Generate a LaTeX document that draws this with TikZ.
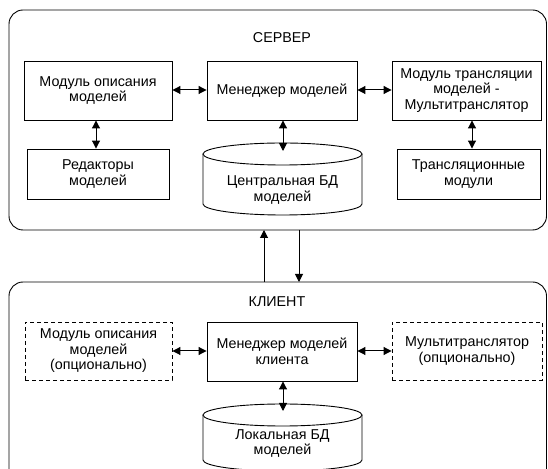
\documentclass[tikz,border=0pt]{standalone}
\usepackage{fontspec}
\setmainfont{Liberation Sans}
\usetikzlibrary{arrows.meta,calc}
\begin{document}
\begin{tikzpicture}[x=1pt,y=1pt,
  every node/.style={font=\fontsize{14.3}{15.5}\selectfont, align=center, inner sep=0pt},
  box/.style={draw, line width=0.9pt, minimum height=59pt},
  dbox/.style={box, dash pattern=on 4pt off 3pt},
  frame/.style={draw, line width=0.9pt, rounded corners=14pt},
  biarrow/.style={line width=1pt, {Triangle[length=8pt,width=8pt]}-{Triangle[length=8pt,width=8pt]}},
  uarrow/.style={line width=1pt, -{Triangle[length=8pt,width=8pt]}},
  cyl/.style={draw, line width=0.9pt, fill=white}
]
\useasboundingbox (0,0) rectangle (548,468);
\fill[white] (0,0) rectangle (548,468);

% frames
\draw[frame] (9,238) rectangle (546.5,458);
\draw[frame] (9,-30) rectangle (546.5,186);
\node (srv) at (282,430) {СЕРВЕР};
\node (cli) at (277,166) {КЛИЕНТ};

% server boxes
\node[box, minimum width=148pt] (mod) at (98,377.5) {Модуль описания\\моделей};
\node[box, minimum width=150pt] (mgr) at (282,377.5) {Менеджер моделей};
\node[box, minimum width=149pt] (trn) at (466.5,377.5) {Модуль трансляции\\моделей -\\Мультитранслятор};
\node[box, minimum width=142pt, minimum height=50pt] (ed) at (98,294) {Редакторы\\моделей};
\node[box, minimum width=143pt, minimum height=50pt] (tmod) at (468.5,294) {Трансляционные\\модули};

% central DB cylinder
\draw[cyl] (203,314) -- (203,264) arc[start angle=180, end angle=360, x radius=79.5pt, y radius=11pt] -- (362,314);
\draw[cyl] (282.5,314) ellipse[x radius=79.5pt, y radius=11pt];
\node (cdb) at (282.5,278) {Центральная БД\\моделей};
\coordinate (cdbtop) at (283,317);

% client boxes
\node[dbox, minimum width=147pt, minimum height=58pt] (cmod) at (98.5,117) {Модуль описания\\моделей\\(опционально)};
\node[box, minimum width=150pt] (cmgr) at (282,116.5) {Менеджер моделей\\клиента};
\node[dbox, minimum width=150pt, minimum height=58pt] (cmt) at (467,117) {Мультитранслятор\\(опционально)};

% local DB cylinder
\draw[cyl] (203,53) -- (203,8) arc[start angle=180, end angle=360, x radius=79.5pt, y radius=11pt] -- (362,53);
\draw[cyl] (282.5,53) ellipse[x radius=79.5pt, y radius=11pt];
\node (ldb) at (282.5,24.5) {Локальная БД\\моделей};
\coordinate (ldbtop) at (283,57);

% server arrows
\draw[biarrow] (mod.east |- 0,378) -- (mgr.west |- 0,378);
\draw[biarrow] (mgr.east |- 0,378) -- (trn.west |- 0,378);
\draw[biarrow] (mod.south -| 96,0) -- (ed.north -| 96,0);
\draw[biarrow] (trn.south -| 472,0) -- (tmod.north -| 472,0);
\draw[biarrow] (mgr.south -| 283,0) -- (cdbtop);

% client arrows
\draw[biarrow] (cmod.east |- 0,117) -- (cmgr.west |- 0,117);
\draw[biarrow] (cmgr.east |- 0,117) -- (cmt.west |- 0,117);
\draw[biarrow] (cmgr.south -| 283,0) -- (ldbtop);

% between frames
\coordinate (ct1) at (264,186);
\coordinate (sb1) at (264,238);
\coordinate (sb2) at (299,238);
\coordinate (ct2) at (299,186);
\draw[uarrow] (ct1) -- (sb1);
\draw[uarrow] (sb2) -- (ct2);
\end{tikzpicture}
\end{document}
